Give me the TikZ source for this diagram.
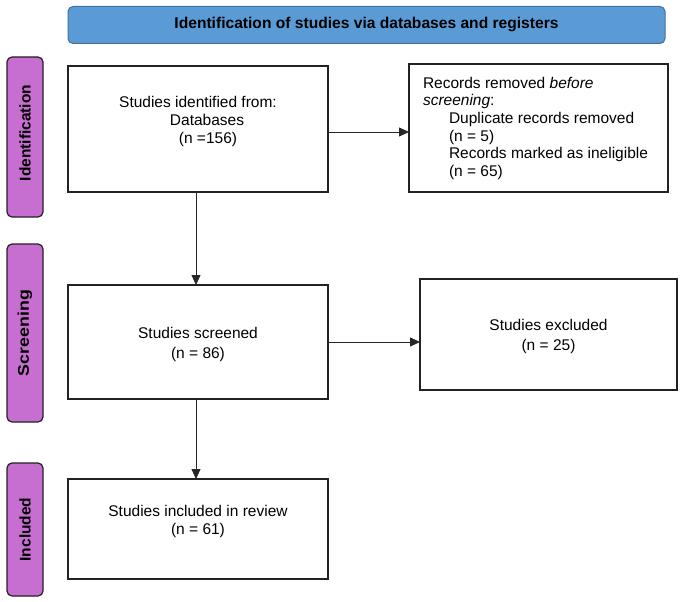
\documentclass[tikz,border=0pt]{standalone}
\usepackage{fontspec}
\setmainfont{Liberation Sans}
\usetikzlibrary{arrows.meta}
\definecolor{bannerblue}{HTML}{5B9BD5}
\definecolor{bannerline}{HTML}{41719C}
\definecolor{sidepurple}{HTML}{C76FD0}
\definecolor{boxline}{HTML}{222222}
\begin{document}
\begin{tikzpicture}[x=1pt,y=-1pt,
  every node/.style={font=\fontsize{15.5}{18}\selectfont, inner sep=0pt, outer sep=0pt},
  flowbox/.style={draw=boxline, line width=1.3pt, fill=white, rectangle},
  sidebar/.style={draw=boxline, line width=1.2pt, fill=sidepurple, rounded corners=5pt, rectangle},
  banner/.style={draw=bannerline, line width=1pt, fill=bannerblue, rounded corners=5pt, rectangle},
  arr/.style={draw=black!85, line width=0.8pt, -{Triangle[length=10pt,width=9pt]}},
  sidelabel/.style={rotate=90, font=\bfseries\fontsize{15.5}{18}\selectfont}
]
\useasboundingbox (0,0) rectangle (680,602);
% banner
\node[banner, minimum width=597pt, minimum height=37pt] (ban) at (366.5,25) {};
\node[font=\bfseries\fontsize{15.6}{18}\selectfont] (bantxt) at (366.5,25) {Identification of studies via databases and registers};
% side bars
\node[sidebar, minimum width=36pt, minimum height=160pt] (sid) at (25,137) {};
\node[sidelabel] (sidtxt) at (25,133) {Identification};
\node[sidebar, minimum width=36pt, minimum height=178pt] (sscr) at (25,333) {};
\node[sidelabel] (sscrtxt) at (25,333) {\scalebox{1.15}[1]{Screening}};
\node[sidebar, minimum width=36pt, minimum height=133pt] (sinc) at (25,529.5) {};
\node[sidelabel] (sinctxt) at (25,529.5) {Included};
% boxes
\node[flowbox, minimum width=260pt, minimum height=126pt] (box1) at (198,129) {};
\node[align=center] (box1txt) at (198,121) {Studies identified from:\\\hspace*{18pt}Databases\\\hspace*{20pt}(n =156)};
\node[flowbox, minimum width=259pt, minimum height=128pt] (box2) at (538.5,128) {};
\node[align=left, anchor=north west] (box2txt) at (423,77) {%
  Records removed \textit{before}\\[-0.4pt]
  \textit{screening}:\\[-0.4pt]
  \hspace*{26pt}Duplicate records removed\\[-0.4pt]
  \hspace*{26pt}(n = 5)\\[-0.4pt]
  \hspace*{26pt}Records marked as ineligible\\[-0.4pt]
  \hspace*{26pt}(n = 65)};
\node[flowbox, minimum width=260pt, minimum height=114pt] (box3) at (198,342) {};
\node[align=center] (box3txt) at (198,344) {Studies screened\\[2pt](n = 86)};
\node[flowbox, minimum width=257pt, minimum height=111pt] (box4) at (548.5,334.5) {};
\node[align=center] (box4txt) at (548.5,336) {Studies excluded\\[2pt](n = 25)};
\node[flowbox, minimum width=260pt, minimum height=100pt] (box5) at (198,529) {};
\node[align=center] (box5txt) at (198,521) {Studies included in review\\(n = 61)};
% arrows
\draw[arr] ([yshift=-3pt]box1.east) -- ([yshift=-3pt]box1.east -| box2.west);
\draw[arr] ([xshift=-2pt]box1.south) -- ([xshift=-2pt]box3.north);
\draw[arr] (box3.east) -- (box3.east -| box4.west);
\draw[arr] ([xshift=-2pt]box3.south) -- ([xshift=-2pt]box5.north);
\end{tikzpicture}
\end{document}
